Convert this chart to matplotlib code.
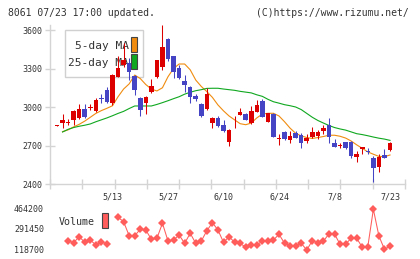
import numpy as np
import matplotlib
matplotlib.use("Agg")
import matplotlib.pyplot as plt
from matplotlib.patches import Rectangle

plt.rcParams['font.family'] = ['DejaVu Sans Mono']

# ---------------- data ----------------
opens = [2852, 2878, 2878, 2897, 2917, 2984, 2995, 2970, 3068, 3132,
         3035, 3236, 3328, 3340, 3240, 3070, 3029, 3117, 3236, 3314,
         3530, 3397, 3301, 3202, 3158, 3086, 3023, 2982, 2878, 2917,
         2860, 2730, 2865, 2938, 2943, 2873, 2963, 3047, 2886, 2945,
         2747, 2803, 2743, 2795, 2782, 2735, 2764, 2777, 2813, 2860,
         2722, 2700, 2725, 2730, 2613, 2673, 2657, 2605, 2535, 2626,
         2665]
highs = [2856, 2943, 2904, 2975, 3021, 3021, 3021, 3068, 3105, 3158,
         3255, 3400, 3500, 3380, 3250, 3080, 3086, 3216, 3370, 3639,
         3538, 3400, 3327, 3249, 3165, 3104, 3030, 3148, 2925, 2930,
         2899, 2830, 2932, 2995, 2950, 3010, 3055, 3065, 2955, 2950,
         2787, 2810, 2813, 2813, 2795, 2787, 2842, 2822, 2860, 2912,
         2751, 2722, 2730, 2735, 2657, 2690, 2678, 2620, 2631, 2670,
         2730]
lows = [2852, 2834, 2860, 2860, 2905, 2915, 2977, 2960, 3031, 3030,
        3015, 3230, 3310, 3210, 3093, 2930, 2945, 3110, 3225, 3288,
        3360, 3223, 3215, 3117, 3034, 3044, 2925, 2975, 2836, 2845,
        2805, 2698, 2834, 2935, 2895, 2868, 2960, 2920, 2880, 2765,
        2704, 2745, 2722, 2755, 2683, 2720, 2760, 2749, 2787, 2722,
        2688, 2683, 2675, 2605, 2574, 2630, 2631, 2418, 2490, 2600,
        2660]
closes = [2856, 2899, 2884, 2971, 2984, 2924, 3003, 3055, 3060, 3037,
          3249, 3301, 3366, 3275, 3132, 2977, 3075, 3164, 3366, 3470,
          3372, 3275, 3223, 3171, 3080, 3062, 2930, 3101, 2917, 2852,
          2813, 2821, 2870, 2959, 2899, 2969, 3016, 2924, 2951, 2769,
          2755, 2751, 2774, 2761, 2722, 2756, 2803, 2803, 2839, 2764,
          2691, 2707, 2678, 2621, 2631, 2686, 2650, 2527, 2613, 2605,
          2722]

ma5 = [np.nan, 2808, 2822, 2845, 2865, 2890, 2920, 2950, 2972, 2990,
       3010, 3080, 3140, 3180, 3249, 3222, 3175, 3140, 3125, 3150,
       3236, 3300, 3335, 3335, 3290, 3210, 3160, 3120, 3075, 3016,
       2970, 2930, 2900, 2870, 2862, 2875, 2915, 2945, 2951, 2951,
       2930, 2885, 2835, 2795, 2775, 2762, 2755, 2762, 2770, 2780,
       2780, 2772, 2758, 2735, 2705, 2678, 2650, 2632, 2615, 2613,
       2626]
ma25 = [np.nan, 2805, 2826, 2840, 2850, 2858, 2868, 2885, 2900, 2915,
        2932, 2950, 2966, 2988, 3008, 3008, 3008, 3008, 3020, 3034,
        3049, 3065, 3080, 3100, 3115, 3127, 3135, 3145, 3146, 3146,
        3140, 3135, 3130, 3122, 3116, 3110, 3095, 3083, 3060, 3041,
        3030, 3018, 3010, 3000, 2980, 2950, 2920, 2895, 2875, 2856,
        2840, 2829, 2820, 2806, 2792, 2785, 2776, 2766, 2757, 2750,
        2740]

volume = [np.nan, np.nan, 191200, 174300, 224900, 177700, 197100, 155000, 182700, 163400,
          np.nan, 388400, 351300, 233300, 233300, 287200, 281300, 203000, 211400, 337800,
          188600, 197100, 239200, 169300, 253500, 169300, 188600, 275400, 342900, 281300,
          177700, 224900, 177700, 169300, 135600, 155000, 155000, 188600, 188600, 197100,
          245100, 169300, 149000, 149000, 169300, 112800, 191200, 174300, 188600, 247600,
          247600, 160800, 163400, 211400, 211400, 135600, 140600, 455800, 230800, 118700,
          146500]

date_labels = ['5/13', '5/27', '6/10', '6/24', '7/8', '7/23']
date_idx = [10, 20, 30, 40, 50, 60]
price_ticks = [2400, 2700, 3000, 3300, 3600]
vol_ticks = [118700, 291450, 464200]

title_left = '8061 07/23 17:00 updated.'
title_right = '(C)https://www.rizumu.net/'

# ---------------- style ----------------
W, H = 420, 259
UP = '#dd0000'
DOWN = '#4444c4'
C_MA5 = '#f08c10'
C_MA25 = '#10a820'
C_VOL = '#ff5c5c'
GRID = '#d4d4d4'
TXT = '#333333'

fig = plt.figure(figsize=(W / 100, H / 100), dpi=100)

def fy(y):
    return 1 - y / H

# main axes: x 50..405, y 25..184 px
ax = fig.add_axes([50 / W, fy(184), 355 / W, (184 - 25) / H])
ax.set_facecolor('white')
n = len(closes)
x = np.arange(n)
xlim = (-1.26, 62.7)

for i in range(n):
    o, h, l, c = opens[i], highs[i], lows[i], closes[i]
    col = UP if c >= o else DOWN
    ax.vlines(i, l, h, color=col, linewidth=0.75, zorder=4)
    bot = min(o, c)
    ht = max(abs(c - o), 5)
    ax.bar(i, ht, bottom=bot, width=0.82, color=col, linewidth=0, zorder=5)

ax.plot(x, ma5, color=C_MA5, linewidth=0.8, zorder=3)
ax.plot(x, ma25, color=C_MA25, linewidth=0.8, zorder=3)

ax.set_xlim(*xlim)
ax.set_ylim(2400, 3639)
for s in ['top', 'right']:
    ax.spines[s].set_visible(False)
for s in ['left', 'bottom']:
    ax.spines[s].set_color(GRID)
    ax.spines[s].set_linewidth(1.0)
ax.set_yticks(price_ticks)
ax.set_yticklabels([str(p) for p in price_ticks])
ax.set_xticks(np.linspace(xlim[0], xlim[1], 12))
ax.set_xticklabels([])
ax.tick_params(axis='both', direction='inout', length=6.5, width=1.0, color=GRID,
               labelsize=6, labelcolor=TXT)
ax.tick_params(axis='y', pad=2)

# legend (beneath candles)
def axp(px, py):
    return ((px - 50) / 355, (184 - py) / 159)

lx, ly = axp(65, 77)
ax.add_patch(Rectangle((lx, ly), 78 / 355, 47 / 159, transform=ax.transAxes,
                       facecolor='white', edgecolor='#d0d0d0', linewidth=1.0, zorder=1))
tx, ty = axp(129, 46)
ax.text(tx, ty, '5-day MA', transform=ax.transAxes, ha='right', va='center',
        fontsize=8, color=TXT, zorder=2)
tx, ty = axp(129, 63)
ax.text(tx, ty, '25-day MA', transform=ax.transAxes, ha='right', va='center',
        fontsize=8, color=TXT, zorder=2)
sx, sy = axp(131, 52)
ax.add_patch(Rectangle((sx, sy), 6 / 355, 15 / 159, transform=ax.transAxes,
                       facecolor=C_MA5, edgecolor='#444444', linewidth=0.8, zorder=2))
sx, sy = axp(131, 69)
ax.add_patch(Rectangle((sx, sy), 6 / 355, 15 / 159, transform=ax.transAxes,
                       facecolor=C_MA25, edgecolor='#444444', linewidth=0.8, zorder=2))

# date labels
for di, lab in zip(date_idx, date_labels):
    ax.text(di, 1 - (197 - 25) / 159, lab, transform=ax.get_xaxis_transform(),
            ha='center', va='center', fontsize=6, color=TXT)

# volume axes: y 204..254 px
axv = fig.add_axes([50 / W, fy(254), 355 / W, 50 / H])
axv.set_xlim(*xlim)
axv.set_ylim(79093, 500443)
axv.plot(x, volume, color=C_VOL, linewidth=0.75, marker='D', markersize=4.3,
         markerfacecolor=C_VOL, markeredgewidth=0)
for s in axv.spines.values():
    s.set_visible(False)
axv.set_xticks([])
axv.set_yticks(vol_ticks)
axv.set_yticklabels([str(v) for v in vol_ticks])
axv.tick_params(axis='y', length=0, pad=4.3, labelsize=6, labelcolor=TXT)
axv.patch.set_alpha(0)

vx = (59 - 50) / 355
axv.text(vx, (254 - 222) / 50, 'Volume', transform=axv.transAxes, ha='left', va='center',
         fontsize=7.2, color=TXT)
axv.add_patch(Rectangle(((102 - 50) / 355, (254 - 228) / 50), 5.5 / 355, 15.5 / 50,
                        transform=axv.transAxes, facecolor=C_VOL, edgecolor='#444444',
                        linewidth=0.8, clip_on=False))

fig.text(8 / W, fy(13), title_left, ha='left', va='center', fontsize=7.0, color=TXT)
fig.text(409 / W, fy(13), title_right, ha='right', va='center', fontsize=7.0, color=TXT)

fig.savefig('out.png', dpi=100)
